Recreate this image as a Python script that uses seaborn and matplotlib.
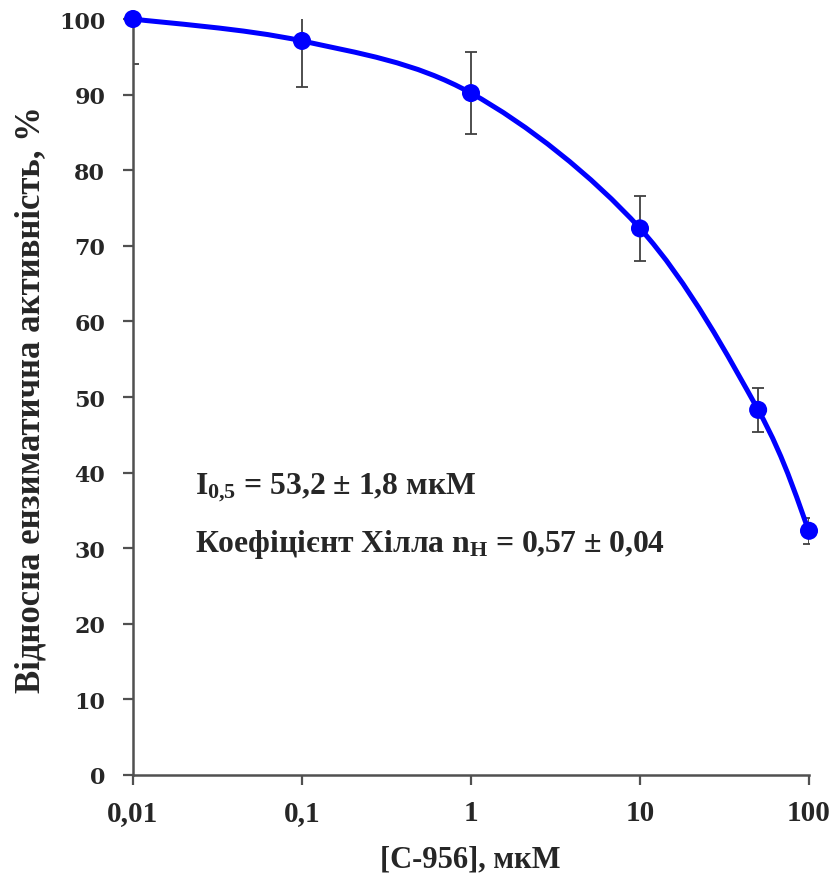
import numpy as np
import matplotlib
matplotlib.use("Agg")
import matplotlib.pyplot as plt
from matplotlib.path import Path
from matplotlib.patches import PathPatch
import seaborn as sns
import pandas as pd

# Inhibitor concentration (uM) and relative enzymatic activity (%)
concentration = [0.01, 0.1, 1, 10, 50, 100]
activity = [100.0, 97.1, 90.2, 72.3, 48.3, 32.3]
activity_err = [6.0, 6.1, 5.4, 4.3, 2.9, 1.7]

x_ticks = [0.01, 0.1, 1, 10, 100]
x_tick_labels = ["0,01", "0,1", "1", "10", "100"]
y_ticks = list(range(0, 101, 10))

df = pd.DataFrame({"conc": concentration, "act": activity, "err": activity_err})

sns.set_style("ticks")
plt.rcParams["font.family"] = ["Liberation Serif", "DejaVu Serif"]
plt.rcParams["font.weight"] = "bold"
plt.rcParams["mathtext.fontset"] = "custom"
plt.rcParams["mathtext.rm"] = "Liberation Serif:bold"
plt.rcParams["mathtext.it"] = "Liberation Serif:bold"
plt.rcParams["mathtext.bf"] = "Liberation Serif:bold"

fig = plt.figure(figsize=(8.35, 8.87), dpi=100)
ax = fig.add_axes([133 / 835, 1 - 776 / 887, (809 - 133) / 835, (776 - 20) / 887])

ax.set_xscale("log")
ax.set_xlim(0.01, 100)
ax.set_ylim(0, 100)

# Smoothed connecting line: cubic Bezier segments (Catmull-Rom style control points)
lx = np.log10(df["conc"].to_numpy())
ly = df["act"].to_numpy()
n = len(lx)
verts = [(10 ** lx[0], ly[0])]
codes = [Path.MOVETO]
for i in range(n - 1):
    p0 = max(i - 1, 0)
    p3 = min(i + 2, n - 1)
    c1 = (lx[i] + (lx[i + 1] - lx[p0]) / 6, ly[i] + (ly[i + 1] - ly[p0]) / 6)
    c2 = (lx[i + 1] - (lx[p3] - lx[i]) / 6, ly[i + 1] - (ly[p3] - ly[i]) / 6)
    verts += [(10 ** c1[0], c1[1]), (10 ** c2[0], c2[1]), (10 ** lx[i + 1], ly[i + 1])]
    codes += [Path.CURVE4, Path.CURVE4, Path.CURVE4]
curve = PathPatch(Path(verts, codes), facecolor="none", edgecolor="#0000FF",
                  linewidth=3.6, zorder=3, clip_on=False, capstyle="round")
ax.add_patch(curve)

# Error bars
ax.errorbar(df["conc"], df["act"], yerr=df["err"], fmt="none", ecolor="#404040",
            elinewidth=1.3, capsize=4.5, capthick=1.3, zorder=2)

# Data points
sns.scatterplot(data=df, x="conc", y="act", ax=ax, s=13 ** 2, color="#0000FF",
                edgecolor="none", zorder=4, clip_on=False, legend=False)

# Axes styling
for side in ["top", "right"]:
    ax.spines[side].set_visible(False)
for side in ["left", "bottom"]:
    ax.spines[side].set_color("#505050")
    ax.spines[side].set_linewidth(1.8)

ax.set_xticks(x_ticks)
ax.set_xticklabels(x_tick_labels)
ax.xaxis.set_minor_locator(matplotlib.ticker.NullLocator())
ax.set_yticks(y_ticks)
ax.tick_params(axis="both", direction="out", length=7, width=1.6, color="#505050")
ax.tick_params(axis="x", pad=10, labelsize=21)
ax.tick_params(axis="y", pad=13, labelsize=16)
for lab in ax.get_xticklabels():
    lab.set_fontfamily("Liberation Serif")
    lab.set_fontweight("bold")
for lab in ax.get_yticklabels():
    lab.set_fontfamily("DejaVu Serif")
    lab.set_fontweight("bold")

ax.set_xlabel("")
ax.set_ylabel("")

fig.text(31 / 835, 1 - 400 / 887, "Відносна ензиматична активність, %",
         rotation=90, ha="center", va="center", fontsize=25, fontweight="bold")
fig.text(470 / 835, 1 - 860 / 887, "[С-956], мкМ", ha="center", va="center",
         fontsize=22, fontweight="bold")

ax.text(0.092, 0.382, r"$I_{0{,}5}$ = 53,2 ± 1,8 мкМ", transform=ax.transAxes,
        ha="left", va="center", fontsize=22.8, fontweight="bold")
ax.text(0.092, 0.3056, r"Коефіцієнт Хілла $n_{H}$ = 0,57 ± 0,04", transform=ax.transAxes,
        ha="left", va="center", fontsize=22.8, fontweight="bold")

fig.savefig("out.png", dpi=100)
